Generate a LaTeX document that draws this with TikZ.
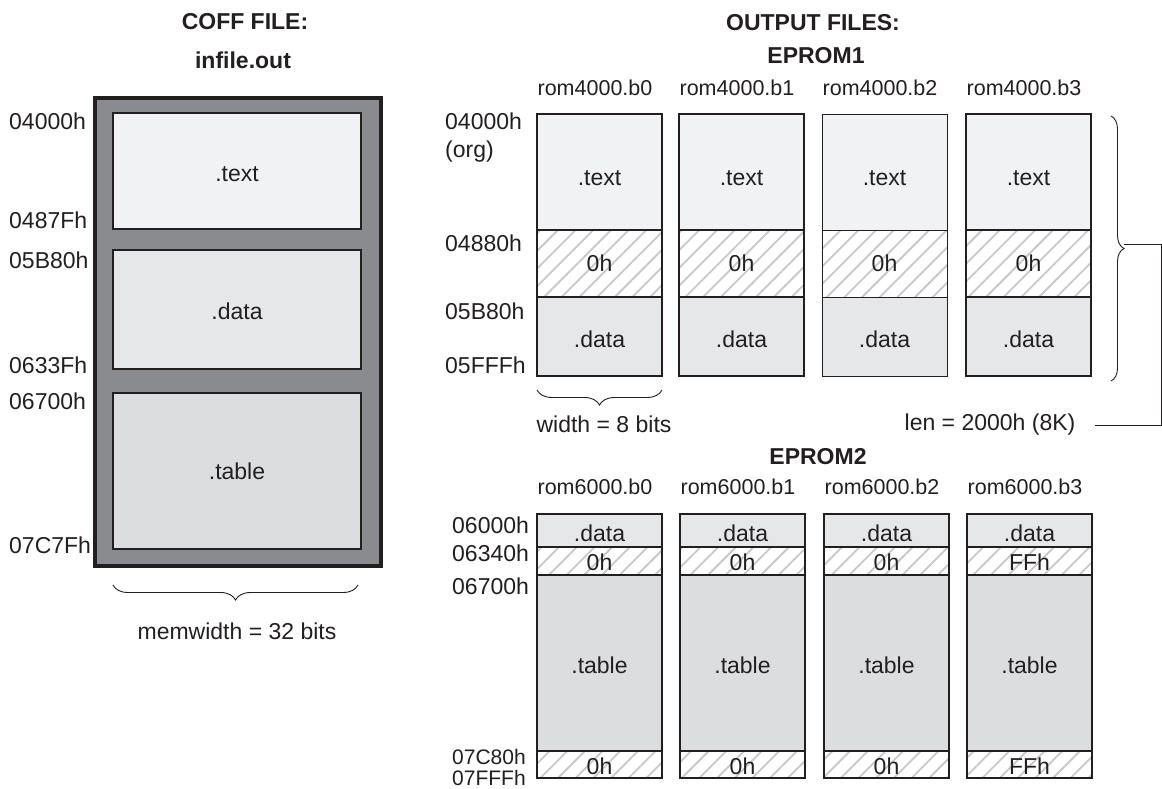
\documentclass[tikz,border=0pt]{standalone}
\usepackage{fontspec}
\setmainfont{Liberation Sans}
\usetikzlibrary{patterns.meta,decorations.pathreplacing}
\definecolor{ink}{HTML}{231F20}
\definecolor{coffgray}{HTML}{8A8B8E}
\definecolor{textfill}{HTML}{F1F2F4}
\definecolor{datafill}{HTML}{E6E7E9}
\definecolor{tablefill}{HTML}{DCDDDF}
\definecolor{hatch}{HTML}{C8C8C8}
\newcommand{\dn}[2]{\raisebox{-#1}[\height][\depth]{#2}}
\begin{document}
\begin{tikzpicture}[x=1pt,y=-1pt,
  every node/.style={font=\fontsize{23}{27}\selectfont, text=ink, inner sep=0pt},
  ttl/.style={font=\bfseries\fontsize{23}{27}\selectfont},
  hdr/.style={font=\fontsize{21.5}{25}\selectfont},
  addr/.style={anchor=west},
  tight/.style={addr, font=\fontsize{21}{24}\selectfont},
  region/.style={draw=ink, line width=2pt, anchor=north west, inner sep=0pt, outer sep=0pt},
  zero/.style={region, preaction={fill=white}, pattern={Lines[angle=45,distance=12.5pt,line width=1.8pt]}, pattern color=hatch},
  brc/.style={draw=ink, line width=0.9pt, decorate, decoration={brace, amplitude=15pt}},
  conn/.style={draw=ink, line width=0.9pt}]
\fill[white] (0,0) rectangle (1162,788);
\useasboundingbox (0,0) rectangle (1162,788);

% ---------- COFF file ----------
\node[ttl] (coffttl) at (245,22) {COFF FILE:};
\node[ttl] (infile) at (243,60) {infile.out};
\node[region, line width=3.5pt, fill=coffgray, minimum width=286pt, minimum height=468pt] (coff) at (95,98) {};
\node[region, fill=textfill, minimum width=248pt, minimum height=116pt] (ctext) at (113,113) {\dn{3pt}{.text}};
\node[region, fill=datafill, minimum width=248pt, minimum height=119pt] (cdata) at (113,250) {\dn{2pt}{.data}};
\node[region, fill=tablefill, minimum width=248pt, minimum height=156pt] (ctable) at (113,393) {.table};
\node[addr] (ca1) at (9,121) {04000h};
\node[addr] (ca2) at (9,220) {0487Fh};
\node[addr] (ca3) at (9,260) {05B80h};
\node[addr] (ca4) at (9,365) {0633Fh};
\node[addr] (ca5) at (9,401) {06700h};
\node[addr] (ca6) at (9,545) {07C7Fh};
\coordinate (mwL) at (113,585);
\coordinate (mwR) at (358,585);
\draw[brc] (mwR) -- (mwL);
\node (memw) at (237,631) {memwidth = 32 bits};

% ---------- EPROM1 ----------
\node[ttl] (outttl) at (813,23) {OUTPUT FILES:};
\node[ttl] (ep1) at (816,56) {EPROM1};
\foreach \x/\n/\lw in {537/0/2.4pt, 679/1/2.4pt, 822/2/0.9pt, 966/3/2.4pt} {
  \node[region, line width=\lw, fill=textfill, minimum width=125pt, minimum height=116pt] (e1t\n) at (\x,114) {\dn{6pt}{.text}};
  \node[zero, line width=\lw, minimum width=125pt, minimum height=67pt] (e1z\n) at (\x,230) {0h};
  \node[region, line width=\lw, fill=datafill, minimum width=125pt, minimum height=79pt] (e1d\n) at (\x,297) {\dn{3pt}{.data}};
  \node[hdr] (e1h\n) at (\x+58,88) {rom4000.b\n};
}
\node[addr] (ea1) at (445,121) {04000h};
\node[addr] (ea2) at (445,152) {(org)};
\node[addr] (ea3) at (445,243) {04880h};
\node[addr] (ea4) at (445,311) {05B80h};
\node[addr] (ea5) at (445,365) {05FFFh};
\coordinate (wL) at (537,390);
\coordinate (wR) at (662,390);
\draw[brc] (wR) -- (wL);
\node (width) at (604,424) {width = 8 bits};
\coordinate (lenT) at (1111,116);
\coordinate (lenB) at (1111,381);
\draw[brc, decoration={brace, amplitude=13pt}] (lenT) -- (lenB);
\coordinate (lentip) at (1124,244);
\node (len) at (990,425) {len = 2000h (8K)};
\draw[conn] (lentip) -- (1161,244) |- ([xshift=19pt]len.east);

% ---------- EPROM2 ----------
\node[ttl] (ep2) at (818,457) {EPROM2};
\foreach \x/\n/\f in {537/0/0h, 680/1/0h, 824/2/0h, 967/3/FFh} {
  \node[region, fill=datafill, minimum width=125pt, minimum height=33pt] (e2d\n) at (\x,514) {\dn{3pt}{.data}};
  \node[zero, minimum width=125pt, minimum height=28pt] (e2z\n) at (\x,547) {\dn{1pt}{\f}};
  \node[region, fill=tablefill, minimum width=125pt, minimum height=176pt] (e2t\n) at (\x,575) {\dn{2pt}{.table}};
  \node[zero, minimum width=125pt, minimum height=27pt] (e2y\n) at (\x,751) {\dn{2pt}{\f}};
  \node[hdr] (e2h\n) at (\x+58,487) {rom6000.b\n};
}
\node[addr] (fa1) at (452,525) {06000h};
\node[addr] (fa2) at (452,553) {06340h};
\node[addr] (fa3) at (452,586) {06700h};
\node[tight] (fa4) at (452,757) {07C80h};
\node[tight] (fa5) at (452,778) {07FFFh};
\end{tikzpicture}
\end{document}
